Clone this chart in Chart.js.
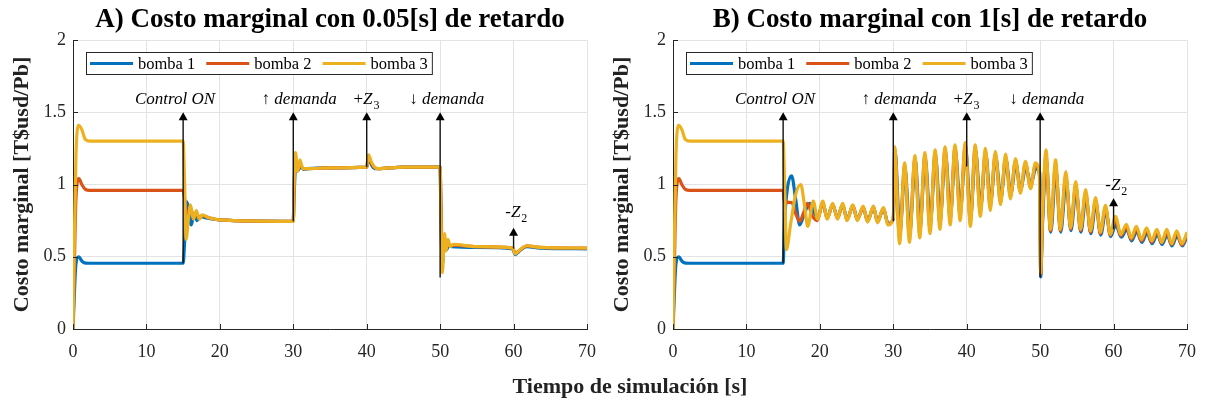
<!DOCTYPE html>
<html>
<head>
<meta charset="utf-8">
<script src="https://cdn.jsdelivr.net/npm/chart.js@4.4.0/dist/chart.umd.min.js"></script>
<style>
  body { margin: 0; background: #fff; }
  #wrap { position: relative; width: 1207px; height: 405px; overflow: hidden; }
  #wrap canvas { position: absolute; top: 0; }
  #xlabel { position: absolute; left: 430px; width: 400px; top: 375px; text-align: center;
            font: bold 22px "Liberation Serif", serif; line-height: 22px; color: #222; }
</style>
</head>
<body>
<div id="wrap">
  <canvas id="panelA" width="600" height="405" style="left:0"></canvas>
  <canvas id="panelB" width="607" height="405" style="left:600px"></canvas>
  <div id="xlabel">Tiempo de simulación [s]</div>
</div>
<script>
const serif = '"Liberation Serif", "Times New Roman", serif';
const colores = { b1: '#0072BD', b2: '#D95319', b3: '#EDB120' };
const nombres = ['bomba 1', 'bomba 2', 'bomba 3'];

// ---- A) retardo 0.05 s ----
const tA_b1 = [0, 0.15, 0.4, 0.8, 1.2, 1.7, 2.3, 15, 15.2, 15.5, 15.8, 16.1, 16.5, 16.9, 17.3, 18, 20, 30, 30.1, 30.35, 30.7, 31, 31.4, 32, 35, 40, 40.1, 40.3, 40.7, 41.1, 41.6, 45, 50, 50.1, 50.3, 50.6, 50.9, 51.2, 51.6, 55, 59.9, 60.2, 60.7, 61.3, 61.8, 63.6, 70];
const yA_b1 = [0, 0.2, 0.45, 0.5, 0.47, 0.456, 0.455, 0.455, 0.6, 0.88, 0.82, 0.72, 0.8, 0.75, 0.78, 0.77, 0.755, 0.745, 0.9, 1.16, 1.1, 1.13, 1.105, 1.11, 1.115, 1.12, 1.14, 1.18, 1.13, 1.11, 1.11, 1.12, 1.12, 0.8, 0.45, 0.6, 0.55, 0.58, 0.57, 0.565, 0.555, 0.515, 0.535, 0.56, 0.57, 0.56, 0.555];
const tA_b23 = [0, 0.15, 0.4, 0.8, 1.2, 1.7, 2.3, 15, 15.2, 15.4, 15.7, 16.0, 16.4, 16.8, 17.2, 17.6, 18.5, 20, 30, 30.1, 30.3, 30.6, 30.9, 31.3, 32, 35, 40, 40.1, 40.25, 40.6, 41, 41.5, 45, 50, 50.1, 50.3, 50.6, 50.8, 51.05, 51.4, 51.8, 55, 59.9, 60.2, 60.7, 61.3, 61.8, 63.6, 70];
const yA_b2 = [0, 0.35, 0.9, 1.04, 1.0, 0.965, 0.96, 0.96, 0.9, 0.82, 0.8, 0.84, 0.77, 0.8, 0.765, 0.785, 0.77, 0.755, 0.745, 0.95, 1.18, 1.12, 1.15, 1.11, 1.11, 1.115, 1.12, 1.15, 1.19, 1.15, 1.12, 1.11, 1.12, 1.12, 0.9, 0.5, 0.63, 0.56, 0.6, 0.575, 0.58, 0.57, 0.56, 0.525, 0.54, 0.563, 0.575, 0.565, 0.56];
const yA_b3 = [0, 0.5, 1.2, 1.41, 1.38, 1.31, 1.30, 1.30, 1.0, 0.62, 0.75, 0.86, 0.76, 0.82, 0.76, 0.79, 0.77, 0.755, 0.745, 1.0, 1.22, 1.09, 1.17, 1.11, 1.11, 1.115, 1.12, 1.16, 1.205, 1.16, 1.125, 1.11, 1.12, 1.12, 0.8, 0.39, 0.66, 0.54, 0.62, 0.57, 0.585, 0.57, 0.56, 0.52, 0.54, 0.565, 0.576, 0.565, 0.56];

// ---- B) retardo 1 s ----
const tB_b1 = [0, 0.15, 0.4, 0.8, 1.2, 1.7, 2.3, 15,
  15.2, 15.6, 16.15, 16.7, 17.25, 17.9, 18.6, 19.65, 20.4, 21.0, 21.75, 22.4, 23.1, 23.7, 24.5, 25.1, 25.9, 26.5, 27.3, 27.85, 28.65, 29.3, 30.0,
  30.25, 30.9, 31.6, 32.25, 33.0, 33.65, 34.35, 35.05, 35.75, 36.4, 37.1, 37.8, 38.45, 39.15, 39.85, 40.55, 41.2, 41.9, 42.6, 43.25, 43.95, 44.65, 45.35, 46.0, 46.7, 47.35, 48.05, 48.75, 49.4, 49.95,
  50.08, 50.3, 50.85, 51.45, 52.15, 52.8, 53.55, 54.2, 54.9, 55.55, 56.25, 56.9, 57.6, 58.25, 58.95, 59.6, 60.3, 61.05, 61.8, 62.45, 63.15, 63.85, 64.55, 65.25, 65.95, 66.6, 67.3, 67.95, 68.65, 69.35, 70];
const yB_b1 = [0, 0.2, 0.45, 0.5, 0.47, 0.456, 0.455, 0.455,
  0.75, 0.98, 1.06, 0.9, 0.72, 0.8, 0.87, 0.77, 0.87, 0.77, 0.86, 0.77, 0.86, 0.76, 0.85, 0.76, 0.84, 0.75, 0.84, 0.745, 0.83, 0.73, 0.76,
  1.22, 0.67, 1.11, 0.68, 1.16, 0.71, 1.18, 0.74, 1.2, 0.77, 1.22, 0.8, 1.235, 0.83, 1.25, 0.79, 1.235, 0.85, 1.21, 0.88, 1.19, 0.91, 1.17, 0.94, 1.14, 0.97, 1.12, 1.0, 1.11, 1.08,
  0.36, 0.7, 1.16, 0.67, 1.1, 0.67, 1.03, 0.68, 0.97, 0.67, 0.92, 0.66, 0.87, 0.65, 0.82, 0.64, 0.72, 0.635, 0.69, 0.61, 0.675, 0.6, 0.665, 0.59, 0.655, 0.585, 0.65, 0.575, 0.645, 0.575, 0.64];
const tB_b2 = [0, 0.15, 0.4, 0.8, 1.2, 1.7, 2.3, 15,
  15.15, 16.2, 16.7, 17.25, 17.75, 18.3, 19.0, 19.65, 20.4, 21.0, 21.75, 22.4, 23.1, 23.7, 24.5, 25.1, 25.9, 26.5, 27.3, 27.85, 28.65, 29.3, 30.0,
  30.2, 30.85, 31.55, 32.2, 32.95, 33.6, 34.3, 35.0, 35.7, 36.35, 37.05, 37.75, 38.4, 39.1, 39.8, 40.5, 41.15, 41.85, 42.55, 43.2, 43.9, 44.6, 45.3, 45.95, 46.65, 47.3, 48.0, 48.7, 49.35, 49.9,
  50.08, 50.3, 50.8, 51.4, 52.1, 52.75, 53.5, 54.15, 54.85, 55.5, 56.2, 56.85, 57.55, 58.2, 58.9, 59.55, 60.25, 61.0, 61.75, 62.4, 63.1, 63.8, 64.5, 65.2, 65.9, 66.55, 67.25, 67.9, 68.6, 69.3, 70];
const yB_b2 = [0, 0.35, 0.9, 1.04, 1.0, 0.965, 0.96, 0.96,
  0.88, 0.875, 0.8, 0.745, 0.8, 0.87, 0.78, 0.75, 0.87, 0.765, 0.865, 0.765, 0.86, 0.755, 0.855, 0.755, 0.845, 0.745, 0.845, 0.74, 0.835, 0.725, 0.765,
  1.24, 0.63, 1.13, 0.64, 1.18, 0.67, 1.2, 0.7, 1.22, 0.73, 1.24, 0.76, 1.255, 0.79, 1.27, 0.75, 1.255, 0.81, 1.23, 0.85, 1.21, 0.88, 1.19, 0.92, 1.165, 0.95, 1.145, 0.98, 1.135, 1.07,
  0.38, 0.73, 1.2, 0.68, 1.13, 0.68, 1.06, 0.69, 0.995, 0.68, 0.94, 0.67, 0.89, 0.66, 0.84, 0.648, 0.76, 0.645, 0.71, 0.62, 0.695, 0.61, 0.685, 0.6, 0.675, 0.595, 0.67, 0.585, 0.665, 0.58, 0.655];
const tB_b3 = [0, 0.15, 0.4, 0.8, 1.2, 1.7, 2.3, 15,
  15.2, 15.45, 16.0, 16.7, 17.4, 17.9, 18.35, 19.1, 19.7, 20.4, 21.0, 21.75, 22.4, 23.1, 23.7, 24.5, 25.1, 25.9, 26.5, 27.3, 27.85, 28.65, 29.3, 30.0,
  30.2, 30.85, 31.55, 32.2, 32.95, 33.6, 34.3, 35.0, 35.7, 36.35, 37.05, 37.75, 38.4, 39.1, 39.8, 40.5, 41.15, 41.85, 42.55, 43.2, 43.9, 44.6, 45.3, 45.95, 46.65, 47.3, 48.0, 48.7, 49.35, 49.9,
  50.08, 50.3, 50.8, 51.4, 52.1, 52.75, 53.5, 54.15, 54.85, 55.5, 56.2, 56.85, 57.55, 58.2, 58.9, 59.55, 60.25, 61.0, 61.75, 62.4, 63.1, 63.8, 64.5, 65.2, 65.9, 66.55, 67.25, 67.9, 68.6, 69.3, 70];
const yB_b3 = [0, 0.5, 1.2, 1.41, 1.38, 1.31, 1.30, 1.30,
  1.0, 0.55, 0.72, 0.93, 1.0, 0.86, 0.71, 0.885, 0.76, 0.885, 0.76, 0.87, 0.76, 0.87, 0.75, 0.86, 0.75, 0.85, 0.74, 0.85, 0.735, 0.84, 0.72, 0.77,
  1.26, 0.59, 1.15, 0.60, 1.20, 0.63, 1.22, 0.66, 1.24, 0.69, 1.26, 0.72, 1.275, 0.75, 1.29, 0.71, 1.275, 0.78, 1.25, 0.82, 1.23, 0.86, 1.21, 0.9, 1.18, 0.94, 1.16, 0.97, 1.15, 1.06,
  0.39, 0.75, 1.24, 0.69, 1.17, 0.69, 1.09, 0.70, 1.02, 0.69, 0.965, 0.68, 0.91, 0.67, 0.855, 0.655, 0.78, 0.655, 0.725, 0.63, 0.71, 0.62, 0.70, 0.61, 0.69, 0.60, 0.69, 0.59, 0.68, 0.59, 0.67];

// eventos (flechas) y textos
const flechaX = [15, 30, 40, 50, 60];
const flechaDesdeA = [0.455, 0.745, 1.12, 0.357, 0.557];
const flechaHastaA = [1.5, 1.5, 1.5, 1.5, 0.70];
const flechaDesdeB = [0.455, 0.745, 1.125, 0.357, 0.69];
const flechaHastaB = [1.5, 1.5, 1.5, 1.5, 0.905];
const etiquetas = ['Control ON', '↑ demanda', '+Z_3', '↓ demanda', '-Z_2'];
const etiquetaX = [13.9, 30.8, 39.9, 50.9, 60.3];
const etiquetaYA = [1.557, 1.557, 1.557, 1.557, 0.775];
const etiquetaYB = [1.557, 1.557, 1.557, 1.557, 0.962];

const xTicks = [0, 10, 20, 30, 40, 50, 60, 70];
const yTicks = [0, 0.5, 1, 1.5, 2];

function pts(t, y) {
  if (t.length !== y.length) throw new Error('largos distintos ' + t.length + ' / ' + y.length);
  return t.map((v, i) => ({ x: v, y: y[i] }));
}

function dibujaEtiqueta(ctx, txt, cx, base) {
  // partes: signo recto, cuerpo en cursiva, subíndice recto
  let signo = '', cuerpo = txt, sub = '';
  if (txt[0] === '+' || txt[0] === '-') { signo = txt[0]; cuerpo = txt.slice(1); }
  if (cuerpo.includes('_')) { [cuerpo, sub] = cuerpo.split('_'); }
  const fR = '17px ' + serif, fI = 'italic 17px ' + serif, fS = '12px ' + serif;
  ctx.font = fR; const wS = ctx.measureText(signo).width;
  ctx.font = fI; const wC = ctx.measureText(cuerpo).width;
  ctx.font = fS; const wSub = ctx.measureText(sub).width;
  let x = cx - (wS + wC + wSub) / 2;
  ctx.fillStyle = '#000';
  ctx.textAlign = 'left'; ctx.textBaseline = 'alphabetic';
  ctx.font = fR; ctx.fillText(signo, x, base); x += wS;
  ctx.font = fI; ctx.fillText(cuerpo, x, base); x += wC + 1;
  ctx.font = fS; ctx.fillText(sub, x, base + 5);
}

const decor = {
  id: 'decor',
  afterDatasetsDraw(chart, args, o) {
    const ctx = chart.ctx, sx = chart.scales.x, sy = chart.scales.y;
    ctx.save();
    ctx.strokeStyle = '#111'; ctx.fillStyle = '#000'; ctx.lineWidth = 1.4;
    flechaX.forEach((fx, i) => {
      const px = sx.getPixelForValue(fx);
      const y0 = sy.getPixelForValue(o.desde[i]);
      const y1 = sy.getPixelForValue(o.hasta[i]);
      ctx.beginPath(); ctx.moveTo(px, y0); ctx.lineTo(px, y1 + 6); ctx.stroke();
      ctx.beginPath(); ctx.moveTo(px, y1); ctx.lineTo(px - 4.5, y1 + 8); ctx.lineTo(px + 4.5, y1 + 8); ctx.closePath(); ctx.fill();
    });
    etiquetas.forEach((txt, i) => {
      dibujaEtiqueta(ctx, txt, sx.getPixelForValue(etiquetaX[i]), sy.getPixelForValue(o.etY[i]));
    });
    ctx.restore();
  },
  afterDraw(chart, args, o) {
    const ctx = chart.ctx, a = chart.chartArea, sx = chart.scales.x, sy = chart.scales.y;
    ctx.save();
    // marcas hacia dentro
    ctx.strokeStyle = '#262626'; ctx.lineWidth = 1;
    xTicks.forEach(v => { const p = Math.round(sx.getPixelForValue(v)) + 0.5; ctx.beginPath(); ctx.moveTo(p, a.bottom); ctx.lineTo(p, a.bottom - 5); ctx.stroke(); });
    yTicks.forEach(v => { const p = Math.round(sy.getPixelForValue(v)) + 0.5; ctx.beginPath(); ctx.moveTo(a.left, p); ctx.lineTo(a.left + 5, p); ctx.stroke(); });
    // leyenda
    const fL = '16.5px ' + serif;
    ctx.font = fL;
    const anchos = nombres.map(n => ctx.measureText(n).width);
    const lx = a.left + 13, ly = 52, lh = 22;
    const lw = 4 + anchos.reduce((s, w) => s + 43 + 5 + w + 11, 0) - 7;
    ctx.fillStyle = '#fff'; ctx.fillRect(lx, ly, lw, lh);
    ctx.strokeStyle = '#262626'; ctx.strokeRect(lx + 0.5, ly + 0.5, lw, lh);
    let x = lx + 4;
    [colores.b1, colores.b2, colores.b3].forEach((c, i) => {
      ctx.strokeStyle = c; ctx.lineWidth = 3;
      ctx.beginPath(); ctx.moveTo(x, ly + lh / 2 + 0.5); ctx.lineTo(x + 43, ly + lh / 2 + 0.5); ctx.stroke();
      ctx.fillStyle = '#000'; ctx.textBaseline = 'middle'; ctx.textAlign = 'left';
      ctx.fillText(nombres[i], x + 48, ly + lh / 2 + 1.5);
      x += 43 + 5 + anchos[i] + 11;
    });
    // titulo
    ctx.font = 'bold 27px ' + serif; ctx.fillStyle = '#000';
    ctx.textAlign = 'center'; ctx.textBaseline = 'alphabetic';
    ctx.fillText(o.titulo, (a.left + a.right) / 2, 27);
    ctx.restore();
  }
};

function crear(id, titulo, series, padRight, desde, hasta, etY) {
  const orden = [2, 1, 0]; // bomba 3 encima
  new Chart(document.getElementById(id), {
    type: 'line',
    data: {
      datasets: orden.map(k => ({
        label: nombres[k],
        data: pts(series[k][0], series[k][1]),
        borderColor: [colores.b1, colores.b2, colores.b3][k],
        borderWidth: 3.2,
        pointRadius: 0,
        cubicInterpolationMode: 'monotone',
        fill: false
      }))
    },
    options: {
      responsive: false,
      devicePixelRatio: 1,
      animation: false,
      layout: { padding: { left: 0, right: padRight, top: 40, bottom: 0 } },
      scales: {
        x: {
          type: 'linear', min: 0, max: 70,
          afterFit: s => { s.height = 76; s.paddingLeft = 0; s.paddingRight = 0; },
          afterBuildTicks: s => { s.ticks = xTicks.map(v => ({ value: v })); },
          ticks: { font: { family: serif, size: 18 }, color: '#262626', padding: 12, maxRotation: 0 },
          grid: { color: '#e3e3e3', drawTicks: false },
          border: { color: '#262626' }
        },
        y: {
          min: 0, max: 2,
          afterFit: s => { s.width = 73; s.paddingTop = 0; s.paddingBottom = 0; },
          afterBuildTicks: s => { s.ticks = yTicks.map(v => ({ value: v })); },
          ticks: { font: { family: serif, size: 18 }, color: '#262626', padding: 7, callback: v => String(v) },
          grid: { color: '#e3e3e3', drawTicks: false },
          border: { color: '#262626' },
          title: { display: true, text: 'Costo marginal [T$usd/Pb]', color: '#222',
                   font: { family: serif, size: 22, weight: 'bold' }, padding: { top: 9, bottom: 0 } }
        }
      },
      plugins: {
        legend: { display: false },
        tooltip: { enabled: false },
        decor: { titulo: titulo, desde: desde, hasta: hasta, etY: etY }
      }
    },
    plugins: [decor]
  });
}

crear('panelA', 'A) Costo marginal con 0.05[s] de retardo',
  [[tA_b1, yA_b1], [tA_b23, yA_b2], [tA_b23, yA_b3]], 13, flechaDesdeA, flechaHastaA, etiquetaYA);
crear('panelB', 'B) Costo marginal con 1[s] de retardo',
  [[tB_b1, yB_b1], [tB_b2, yB_b2], [tB_b3, yB_b3]], 20, flechaDesdeB, flechaHastaB, etiquetaYB);
</script>
</body>
</html>
